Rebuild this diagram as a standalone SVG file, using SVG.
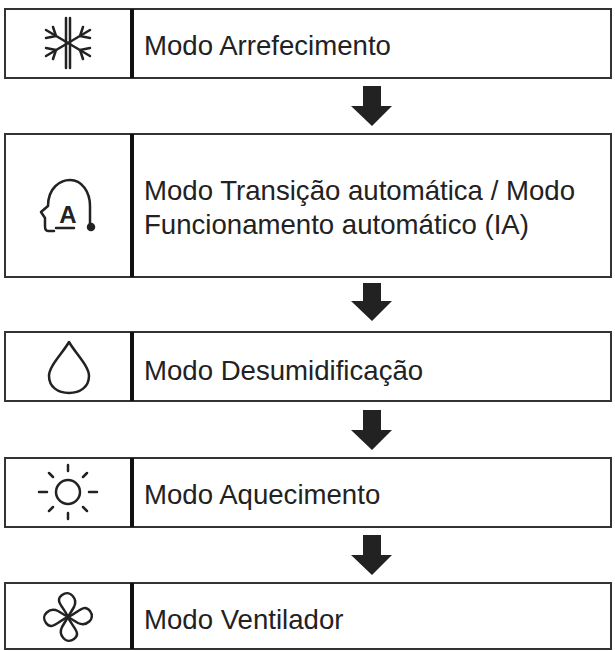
<svg xmlns="http://www.w3.org/2000/svg" width="615" height="651" viewBox="0 0 615 651">
<style>
.box{fill:#fff;stroke:#333;stroke-width:2}
.div{stroke:#111;stroke-width:4}
.t{font-family:"Liberation Sans",Arial,sans-serif;font-size:27.6px;fill:#222}
.ic{fill:none;stroke:#222;stroke-width:2.5;stroke-linecap:round;stroke-linejoin:round}
.ar{fill:#222}
</style>
<rect width="615" height="651" fill="#fff"/>
<g id="n1"><rect class="box" x="5" y="9" width="606" height="69"/><line class="div" x1="132" y1="9" x2="132" y2="78"/>
<g class="ic" transform="translate(68 43)"><line x1="-2" y1="-25" x2="-2" y2="25"/><line x1="2" y1="-25" x2="2" y2="25"/>
<line x1="-22" y1="-13" x2="22" y2="13"/><line x1="-22" y1="13" x2="22" y2="-13"/>
<path d="M-22 -5 L-12 -7 L-15 -16 M22 -5 L12 -7 L15 -16 M-22 5 L-12 7 L-15 16 M22 5 L12 7 L15 16"/></g>
<text class="t" x="144" y="55">Modo Arrefecimento</text></g>
<g id="n2"><rect class="box" x="5" y="134" width="606" height="143"/><line class="div" x1="132" y1="134" x2="132" y2="277"/>
<g class="ic"><path d="M54 231 L48 231 C45 231 45 228 45 226 L45 218 L41 212 L48 206 C48 188 60 180 70 180 C82 180 90 192 90 206 L90 225"/><circle cx="91" cy="227" r="3" fill="#222"/>
<path d="M56 228 L74 228"/>
<text x="68" y="223" text-anchor="middle" style="font-family:'Liberation Sans',Arial,sans-serif;font-size:24px;font-weight:bold;fill:#222;stroke:none">A</text></g>
<text class="t" x="144" y="200">Modo Transição automática / Modo</text>
<text class="t" x="144" y="234">Funcionamento automático (IA)</text></g>
<g id="n3"><rect class="box" x="5" y="332" width="606" height="69"/><line class="div" x1="132" y1="332" x2="132" y2="401"/>
<path class="ic" d="M69 342 C62 354 49 366 49 376 C49 387 58 393 69 393 C80 393 89 387 89 376 C89 366 76 354 69 342 Z"/>
<text class="t" x="144" y="380">Modo Desumidificação</text></g>
<g id="n4"><rect class="box" x="5" y="458" width="606" height="69"/><line class="div" x1="132" y1="458" x2="132" y2="527"/>
<g class="ic"><circle cx="68" cy="492" r="12"/><path d="M39 492 H47 M89 492 H97 M68 465 V471 M68 513 V519 M49 473 L53 477 M87 473 L83 477 M49 511 L53 507 M87 511 L83 507"/></g>
<text class="t" x="144" y="504">Modo Aquecimento</text></g>
<g id="n5"><rect class="box" x="5" y="583" width="606" height="66"/><line class="div" x1="132" y1="583" x2="132" y2="649"/>
<g class="ic" transform="translate(68 617)"><path d="M0 0 C-4 -10 -14 -16 -6 -22 C2 -28 10 -18 6 -10 Z"/><path d="M0 0 C-4 -10 -14 -16 -6 -22 C2 -28 10 -18 6 -10 Z" transform="rotate(90)"/><path d="M0 0 C-4 -10 -14 -16 -6 -22 C2 -28 10 -18 6 -10 Z" transform="rotate(180)"/><path d="M0 0 C-4 -10 -14 -16 -6 -22 C2 -28 10 -18 6 -10 Z" transform="rotate(270)"/></g>
<text class="t" x="144" y="629">Modo Ventilador</text></g>
<g id="connectors">
<path class="ar" d="M363 86 H381 V106 H392 L372 126 L351 106 H363 Z"/>
<path class="ar" d="M363 283 H381 V301 H392 L372 321 L351 301 H363 Z"/>
<path class="ar" d="M363 410 H381 V430 H392 L372 450 L351 430 H363 Z"/>
<path class="ar" d="M363 535 H381 V555 H392 L372 575 L351 555 H363 Z"/>
</g>
</svg>
